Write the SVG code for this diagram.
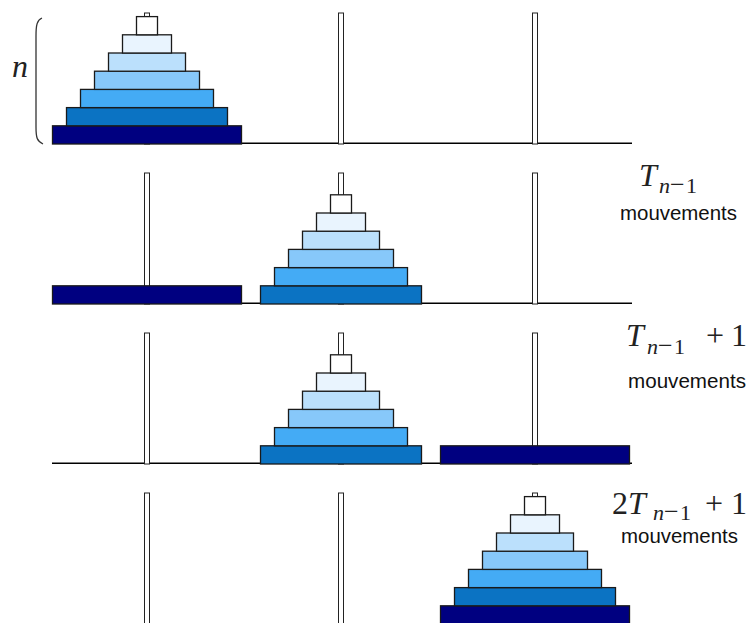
<svg xmlns="http://www.w3.org/2000/svg" xmlns:xlink="http://www.w3.org/1999/xlink" width="754" height="623" viewBox="0 0 754 623">
  <style>
    .base { stroke: #000; stroke-width: 1.4; fill: none; }
    .peg { fill: #fff; stroke: #222; stroke-width: 1; }
    .disk { stroke: #1a1a1a; stroke-width: 1.3; }
    .k1 { fill: #000080; }
    .k2 { fill: #0b73c3; }
    .k3 { fill: #44abf5; }
    .k4 { fill: #87c8fa; }
    .k5 { fill: #bbe0fc; }
    .k6 { fill: #e9f4fe; }
    .k7 { fill: #ffffff; }
    .math { font-family: "Liberation Serif", "Times New Roman", serif; fill: #222; font-size: 32px; }
    .it { font-style: italic; }
    .sub { font-size: 22px; }
    .minus { font-size: 26px; }
    .mv { font-family: "Liberation Sans", Arial, sans-serif; font-size: 21px; fill: #111; }
    .brace { fill: none; stroke: #333; stroke-width: 1.3; }
  </style>
  <defs>
    <rect id="peg" class="peg" x="-2.5" y="-131" width="5" height="131"/>
    <g id="stack7">
      <rect class="disk k1" x="-94.5" y="-18.2" width="189" height="18.2"/>
      <rect class="disk k2" x="-80.5" y="-36.4" width="161" height="18.2"/>
      <rect class="disk k3" x="-66.5" y="-54.6" width="133" height="18.2"/>
      <rect class="disk k4" x="-52.5" y="-72.8" width="105" height="18.2"/>
      <rect class="disk k5" x="-38.5" y="-91" width="77" height="18.2"/>
      <rect class="disk k6" x="-24.5" y="-109.2" width="49" height="18.2"/>
      <rect class="disk k7" x="-10.5" y="-127.4" width="21" height="18.2"/>
    </g>
    <g id="stack6">
      <rect class="disk k2" x="-80.5" y="-18.2" width="161" height="18.2"/>
      <rect class="disk k3" x="-66.5" y="-36.4" width="133" height="18.2"/>
      <rect class="disk k4" x="-52.5" y="-54.6" width="105" height="18.2"/>
      <rect class="disk k5" x="-38.5" y="-72.8" width="77" height="18.2"/>
      <rect class="disk k6" x="-24.5" y="-91" width="49" height="18.2"/>
      <rect class="disk k7" x="-10.5" y="-109.2" width="21" height="18.2"/>
    </g>
    <rect id="big" class="disk k1" x="-94.5" y="-18.2" width="189" height="18.2"/>
  </defs>

  <!-- Panel 1 -->
  <g id="panel1">
    <line class="base" x1="52" y1="143.3" x2="632" y2="143.3"/>
    <use xlink:href="#peg" x="147" y="144"/>
    <use xlink:href="#peg" x="341" y="144"/>
    <use xlink:href="#peg" x="535" y="144"/>
    <use xlink:href="#stack7" x="147" y="144"/>
    <path class="brace" d="M42,18 C37,20 36,25 36,36 L36,127 C36,138 37,141 43,144"/>
    <text class="math it" x="12" y="77">n</text>
  </g>

  <!-- Panel 2 -->
  <g id="panel2">
    <line class="base" x1="52" y1="303.3" x2="632" y2="303.3"/>
    <use xlink:href="#peg" x="147" y="304"/>
    <use xlink:href="#peg" x="341" y="304"/>
    <use xlink:href="#peg" x="535" y="304"/>
    <use xlink:href="#big" x="147" y="304"/>
    <use xlink:href="#stack6" x="341" y="304"/>
    <text class="math"><tspan class="it sub" x="659" y="193">n</tspan><tspan class="minus" x="670" y="193">−</tspan><tspan class="sub" x="686" y="193">1</tspan><tspan class="it" x="639" y="186">T</tspan></text>
    <text class="mv" x="620" y="219.5" textLength="117" lengthAdjust="spacingAndGlyphs">mouvements</text>
  </g>

  <!-- Panel 3 -->
  <g id="panel3">
    <line class="base" x1="52" y1="463.3" x2="632" y2="463.3"/>
    <use xlink:href="#peg" x="147" y="464"/>
    <use xlink:href="#peg" x="341" y="464"/>
    <use xlink:href="#peg" x="535" y="464"/>
    <use xlink:href="#stack6" x="341" y="464"/>
    <use xlink:href="#big" x="535" y="464"/>
    <text class="math"><tspan class="it" x="626" y="346">T</tspan><tspan class="sub it" x="647" y="354">n</tspan><tspan class="minus" x="658" y="354">−</tspan><tspan class="sub" x="674" y="354">1</tspan><tspan x="706" y="346">+</tspan><tspan x="731" y="346">1</tspan></text>
    <text class="mv" x="628" y="388" textLength="118" lengthAdjust="spacingAndGlyphs">mouvements</text>
  </g>

  <!-- Panel 4 -->
  <g id="panel4">
    <line class="base" x1="52" y1="624.5" x2="632" y2="624.5"/>
    <use xlink:href="#peg" x="147" y="624"/>
    <use xlink:href="#peg" x="341" y="624"/>
    <use xlink:href="#peg" x="535" y="624"/>
    <use xlink:href="#stack7" x="535" y="624"/>
    <text class="math"><tspan x="612" y="513.5">2</tspan><tspan class="it" x="628" y="513.5">T</tspan><tspan class="sub it" x="653" y="520">n</tspan><tspan class="minus" x="664" y="520">−</tspan><tspan class="sub" x="680" y="520">1</tspan><tspan x="705" y="513.5">+</tspan><tspan x="731" y="513.5">1</tspan></text>
    <text class="mv" x="621" y="543" textLength="117" lengthAdjust="spacingAndGlyphs">mouvements</text>
  </g>

  <g id="connectors"></g>
</svg>
